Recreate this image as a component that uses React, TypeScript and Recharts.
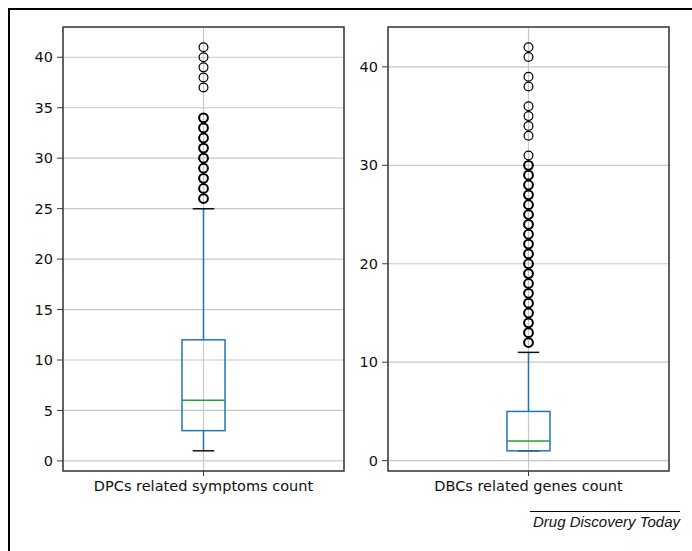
import { ComposedChart, Bar, Scatter, XAxis, YAxis, CartesianGrid, ReferenceArea } from "recharts";

const BOX_BLUE = "#1f77b4";
const MEDIAN_GREEN = "#2ca02c";
const SPINE = "#3a3a3a";
const GRID = "#c8c8c8";

const CATEGORIES = ["DPCs related symptoms count", "DBCs related genes count"];
const WHISKER_LOW = [1, 1];
const Q1 = [3, 1];
const MEDIAN = [6, 2];
const Q3 = [12, 5];
const WHISKER_HIGH = [25, 11];
// values where many rows overlap (rings look heavier)
const DENSE_OUTLIERS = [
  [26, 27, 28, 29, 30, 31, 32, 33, 34],
  [12, 13, 14, 15, 16, 17, 18, 19, 20, 21, 22, 23, 24, 25, 26, 27, 28, 29, 30],
];
const SPARSE_OUTLIERS = [
  [37, 38, 39, 40, 41],
  [31, 33, 34, 35, 36, 38, 39, 41, 42],
];
const Y_TICKS = [
  [0, 5, 10, 15, 20, 25, 30, 35, 40],
  [0, 10, 20, 30, 40],
];
const Y_DOMAINS = [
  [-1, 43],
  [-1.05, 44.05],
];

const FONT = "'DejaVu Sans', sans-serif";

const span = (p: any) => {
  const top = Math.min(p.y, p.y + p.height);
  const bottom = Math.max(p.y, p.y + p.height);
  return { top, bottom, cx: p.x + p.width / 2 };
};

const LowWhisker = (p: any) => {
  const { top, bottom, cx } = span(p);
  return (
    <g>
      <line x1={cx} x2={cx} y1={top} y2={bottom} stroke={BOX_BLUE} strokeWidth={1.5} />
      <line x1={cx - p.width / 4} x2={cx + p.width / 4} y1={bottom} y2={bottom} stroke="#111" strokeWidth={1.5} />
    </g>
  );
};

const HighWhisker = (p: any) => {
  const { top, bottom, cx } = span(p);
  return (
    <g>
      <line x1={cx} x2={cx} y1={top} y2={bottom} stroke={BOX_BLUE} strokeWidth={1.5} />
      <line x1={cx - p.width / 4} x2={cx + p.width / 4} y1={top} y2={top} stroke="#111" strokeWidth={1.5} />
    </g>
  );
};

const BoxShape = (p: any) => {
  const { top, bottom } = span(p);
  return <rect x={p.x} y={top} width={p.width} height={bottom - top} fill="none" stroke={BOX_BLUE} strokeWidth={1.5} />;
};

const MedianShape = (p: any) => {
  const { top } = span(p);
  return <line x1={p.x} x2={p.x + p.width} y1={top} y2={top} stroke={MEDIAN_GREEN} strokeWidth={1.5} />;
};

const ring = (w: number) => (p: any) => (
  <circle cx={p.cx} cy={p.cy} r={4.4} fill="none" stroke="#000" strokeWidth={w} />
);

function BoxPanel({ i, left, width, axisWidth }: { i: number; left: number; width: number; axisWidth: number }) {
  const name = CATEGORIES[i];
  const data = [
    {
      name,
      lowWhisker: [WHISKER_LOW[i], Q1[i]],
      box: [Q1[i], Q3[i]],
      medianSpan: [Q1[i], MEDIAN[i]],
      highWhisker: [Q3[i], WHISKER_HIGH[i]],
    },
  ];
  const dense = DENSE_OUTLIERS[i].map((value) => ({ name, value }));
  const sparse = SPARSE_OUTLIERS[i].map((value) => ({ name, value }));
  const [lo, hi] = Y_DOMAINS[i];

  return (
    <div style={{ position: "absolute", left, top: 0 }}>
      <ComposedChart width={width} height={511} data={data} margin={{ top: 27, right: 2, bottom: 0, left: 0 }} barGap={-43}>
        <CartesianGrid stroke={GRID} strokeWidth={1.2} />
        <XAxis
          dataKey="name"
          type="category"
          allowDuplicatedCategory={false}
          axisLine={false}
          tickLine={{ stroke: SPINE }}
          tickSize={5}
          tickMargin={5}
          height={40}
          tick={{ fill: "#111", fontSize: 14.5, fontFamily: FONT }}
        />
        <YAxis
          type="number"
          domain={[lo, hi]}
          ticks={Y_TICKS[i]}
          interval={0}
          allowDataOverflow
          axisLine={false}
          tickLine={{ stroke: SPINE }}
          tickSize={6}
          tickMargin={4}
          width={axisWidth}
          tick={{ fill: "#111", fontSize: 14.5, fontFamily: FONT }}
        />
        <Bar dataKey="lowWhisker" barSize={43} shape={LowWhisker} isAnimationActive={false} />
        <Bar dataKey="highWhisker" barSize={43} shape={HighWhisker} isAnimationActive={false} />
        <Bar dataKey="box" barSize={43} shape={BoxShape} isAnimationActive={false} />
        <Bar dataKey="medianSpan" barSize={43} shape={MedianShape} isAnimationActive={false} />
        <Scatter data={sparse} dataKey="value" shape={ring(1.2)} isAnimationActive={false} />
        <Scatter data={dense} dataKey="value" shape={ring(2)} isAnimationActive={false} />
        <ReferenceArea y1={lo} y2={hi} ifOverflow="visible" fill="none" stroke={SPINE} strokeWidth={1.5} />
      </ComposedChart>
    </div>
  );
}

export default function App() {
  return (
    <div
      style={{
        position: "absolute",
        left: 0,
        top: 0,
        width: 692,
        height: 551,
        overflow: "hidden",
        background: "#fff",
        fontFamily: FONT,
      }}
    >
      <div style={{ position: "absolute", left: 8, top: 8, width: 720, height: 580, border: "2px solid #000" }} />
      <BoxPanel i={0} left={0} width={346} axisWidth={63} />
      <BoxPanel i={1} left={346} width={325} axisWidth={42} />
      <div
        style={{
          position: "absolute",
          left: 530,
          top: 511,
          width: 150,
          borderTop: "1px solid #000",
          paddingTop: 1,
          textAlign: "right",
          fontFamily: "'Liberation Sans', Arial, sans-serif",
          fontStyle: "italic",
          fontSize: 15,
          lineHeight: "17px",
          color: "#111",
          whiteSpace: "nowrap",
        }}
      >
        Drug Discovery Today
      </div>
    </div>
  );
}
